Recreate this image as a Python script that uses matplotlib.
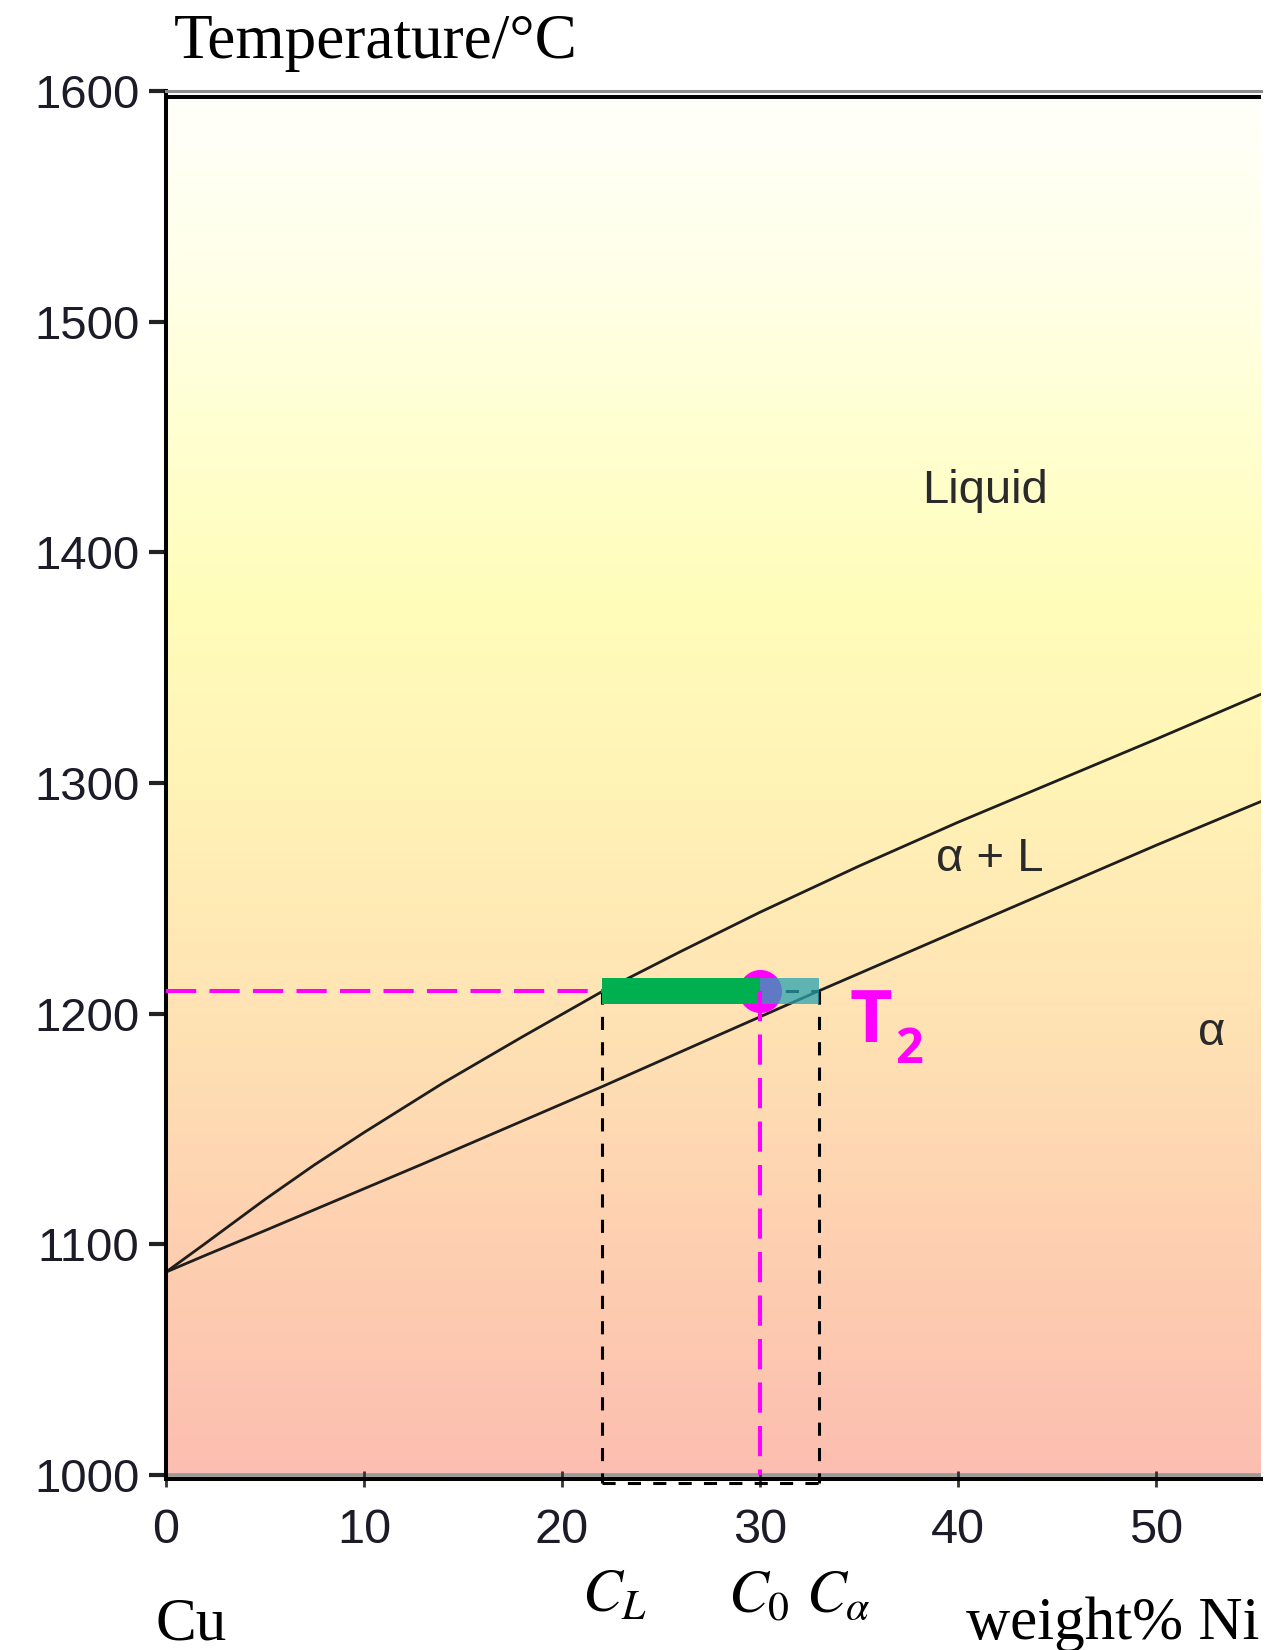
import matplotlib.pyplot as plt
import numpy as np
from matplotlib.colors import LinearSegmentedColormap
from matplotlib.patches import Rectangle
import matplotlib.transforms as mtransforms

plt.rcParams['mathtext.fontset'] = 'stix'

# Cu-Ni phase diagram (wt% Ni, temperature in °C)
liq_x = [0, 2, 5, 7.5, 10, 14, 18, 22, 26, 30, 35, 40, 45, 50, 55.3]
liq_T = [1088, 1100.5, 1119.5, 1134.5, 1148.5, 1170, 1190, 1209.5, 1227, 1244, 1264, 1283, 1301, 1319, 1338.5]
sol_x = [0, 2, 5, 9, 13, 18, 22, 27, 33, 40, 45, 50, 55.3]
sol_T = [1088, 1095.3, 1106, 1120.5, 1135, 1153.5, 1168.3, 1187.3, 1210, 1236, 1254.5, 1273, 1292]

# tie line at T2
T2 = 1210
C_L = 22
C0 = 30
C_alpha = 33

x_ticks = [0, 10, 20, 30, 40, 50]
y_ticks = [1000, 1100, 1200, 1300, 1400, 1500, 1600]

fig = plt.figure(figsize=(12.7, 16.5), dpi=100)
ax = fig.add_axes([0.1307, 0.10364, 0.8622, 0.84121])
xmax = 55.3
ymin, ymax = 998.3, 1600
ax.set_xlim(0, xmax)
ax.set_ylim(ymin, ymax)

# background colour gradient (pink at the bottom -> yellow -> white at the top)
top_bg = 1597.3
stops_T = [998.3, 1100, 1200, 1300, 1380, 1450, 1520, 1597.3]
stops_c = ['#fcbeb0', '#fed0b1', '#ffe3b4', '#fff3b6', '#fffdba', '#ffffd0', '#ffffe8', '#fffffa']
bg = LinearSegmentedColormap.from_list(
    'bg', [((t - ymin) / (top_bg - ymin), c) for t, c in zip(stops_T, stops_c)])
grad = np.linspace(0, 1, 600).reshape(-1, 1)
ax.imshow(grad, cmap=bg, origin='lower', aspect='auto',
          extent=(0, xmax, ymin, top_bg), zorder=0)

# frame
ax.axhline(top_bg, color='black', lw=2.9, zorder=1)
ax.axhline(1000, color='#9a9a9a', lw=2.6, zorder=1)
ax.spines['right'].set_visible(False)
ax.spines['top'].set_color('#8c8c8c')
ax.spines['top'].set_linewidth(2.2)
ax.spines['left'].set_linewidth(2.9)
ax.spines['bottom'].set_linewidth(2.9)

# liquidus and solidus
ax.plot(liq_x, liq_T, color='#1e1e1e', lw=2.0, zorder=2)
ax.plot(sol_x, sol_T, color='#1e1e1e', lw=2.0, zorder=2)

# construction lines for the lever rule
bot = ymin - 1.8
blk = dict(color='black', lw=2.2, ls=(0, (4.3, 4)), zorder=3, clip_on=False)
ax.plot([C_L, C_L], [T2, bot], **blk)
ax.plot([C_alpha, C_alpha], [T2, bot], **blk)
ax.plot([C_L, C_alpha], [bot, bot], **blk)
ax.plot([C0, C_alpha], [T2, T2], **blk)

mag = dict(color='#ff00ff', lw=2.9, ls=(0, (7.5, 3.3)))
ax.plot([0, C_L], [T2, T2], zorder=3, **mag)
ax.plot(C0, T2, 'o', ms=31, color='#ff00ff', mec='none', zorder=4)

half = 5.65
ax.add_patch(Rectangle((C_L, T2 - half), C0 - C_L, 2 * half,
                       color='#00b050', lw=0, zorder=5))
ax.add_patch(Rectangle((C0, T2 - half), C_alpha - C0, 2 * half,
                       color='#2aa3b0', alpha=0.75, lw=0, zorder=6))
ax.plot([C0, C0], [T2, 1000], zorder=7, **mag)

# phase labels
lab = dict(fontsize=34, family='Liberation Sans', color='#2a2a2a', va='baseline')
ax.text(38.2, 1421.5, 'Liquid', **lab)
ax.text(38.9, 1261.8, 'α + L', **lab)
ax.text(52.1, 1186.5, 'α', **lab)

ax.text(34.5, 1187.8, 'T', fontsize=53, family='Open Sans', fontweight='bold',
        color='#ff00ff', va='baseline')
ax.text(36.8, 1178.7, '2', fontsize=35, family='Open Sans', fontweight='bold',
        color='#ff00ff', va='baseline')

# ticks
ax.set_xticks(x_ticks)
ax.set_yticks(y_ticks)
ax.tick_params(axis='y', direction='out', length=12.2, width=3, color='#222222',
               pad=7, labelsize=34, labelcolor='#1c1c28')
ax.tick_params(axis='x', direction='inout', length=12, width=2, color='#333333',
               pad=15, labelsize=35, labelcolor='#1c1c28')
for t in ax.get_xticklabels() + ax.get_yticklabels():
    t.set_family('Liberation Sans')

# composition labels under the axis
tr = mtransforms.blended_transform_factory(ax.transData, fig.transFigure)
ax.text(21.0, 0.023, r'$C_L$', fontsize=43, transform=tr, va='baseline')
ax.text(28.4, 0.023, r'$C_0$', fontsize=43, transform=tr, va='baseline')
ax.text(32.3, 0.023, r'$C_\alpha$', fontsize=43, transform=tr, va='baseline')

serif = dict(family='Liberation Serif', va='baseline')
fig.text(174 / 1270, 1 - 58 / 1650, 'Temperature/°C', fontsize=45.5, **serif)
fig.text(155 / 1270, 1 - 1639 / 1650, 'Cu', fontsize=44, **serif)
fig.text(966 / 1270, 1 - 1639 / 1650, 'weight% Ni', fontsize=44, **serif)

fig.savefig('out.png', dpi=100)
